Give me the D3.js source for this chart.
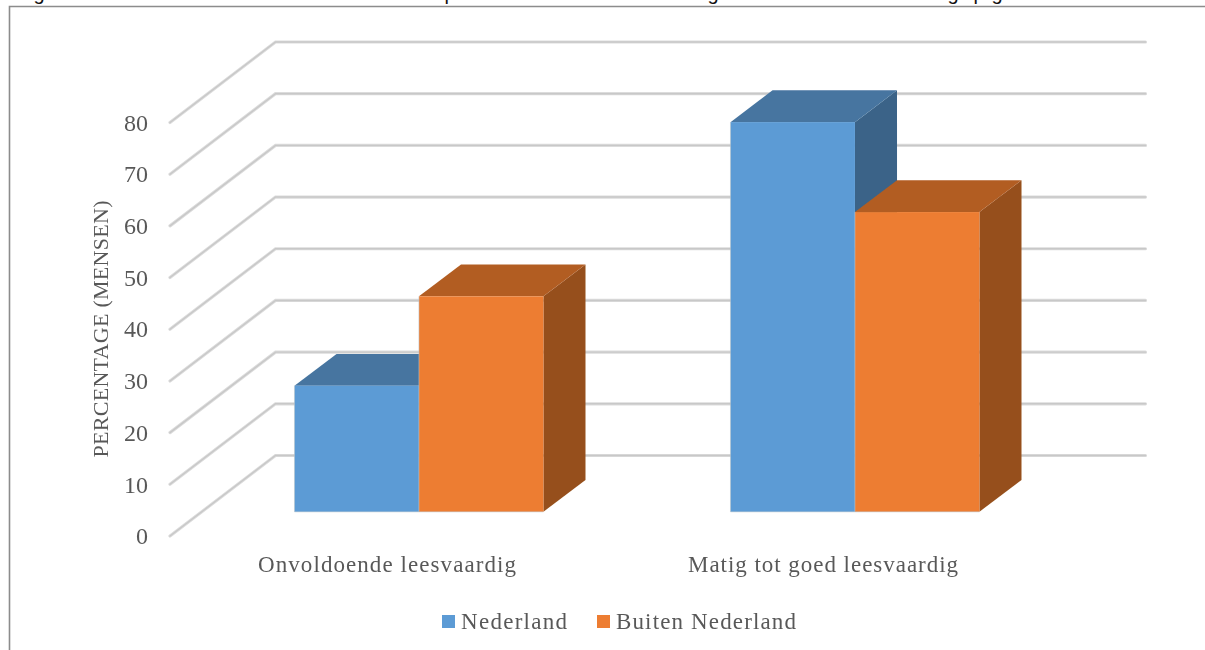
<!DOCTYPE html>
<html><head><meta charset="utf-8">
<script src="https://cdn.jsdelivr.net/npm/d3@7/dist/d3.min.js"></script>
<style>html,body{margin:0;padding:0;background:#fff}svg{display:block}</style>
</head><body>
<svg id="c" width="1205" height="650"></svg>
<script>
const categories = ["Onvoldoende leesvaardig", "Matig tot goed leesvaardig"];
const seriesNames = ["Nederland", "Buiten Nederland"];
const nederland = [24.4, 75.4];
const buitenNederland = [41.7, 58];
const yTicks = [0, 10, 20, 30, 40, 50, 60, 70, 80];
const yTitle = "PERCENTAGE (MENSEN)";
const clippedTitleDescenders = ["g", "p", "g", "g", "p", "g"];

const frontCol = ["#5b9bd5", "#ed7d31"], topCol = ["#4675a0", "#b25d22"], sideCol = ["#3a6488", "#96501c"];
const serif = "'Liberation Serif', serif", textCol = "#595959";

const svg = d3.select("#c");
const defs = svg.append("defs");
defs.append("filter").attr("id", "soft").append("feGaussianBlur").attr("stdDeviation", 0.45);

// projection geometry
const plotL = 169, plotW = 872, y0 = 536, y80 = 122.5;
const wallDx = 106.5, wallDy = -80.5;          // full floor depth
const barStart = 0.3, barDepth = 0.395;         // fraction of depth
const x = d3.scaleBand().domain(categories).range([plotL, plotL + plotW]).paddingInner(0.429).paddingOuter(0.2145);
const xs = d3.scaleBand().domain(d3.range(2)).range([0, x.bandwidth()]);
const y = d3.scaleLinear().domain([0, 80]).range([y0, y80]);

// frame
svg.append("path").attr("d", "M9.5,650V6.5H1205").attr("fill", "none").attr("stroke", "#8c8c8c").attr("stroke-width", 1.6);

// clipped caption line above the frame
const capX = [39, 450, 713, 953, 979, 997];
svg.append("g").selectAll("text").data(clippedTitleDescenders).join("text")
  .attr("x", (d, i) => capX[i]).attr("y", -0.5).attr("text-anchor", "middle")
  .attr("font-family", "'Liberation Sans', Arial, sans-serif").attr("font-size", 20).attr("fill", "#111").text(d => d);

const g = svg.append("g").attr("filter", "url(#soft)");

// gridlines: side wall + back wall
const gridPath = v => {
  const p = d3.path(); const yy = y(v);
  p.moveTo(plotL + 1, yy); p.lineTo(plotL + wallDx, yy + wallDy); p.lineTo(plotL + plotW + wallDx - 2, yy + wallDy);
  return p.toString();
};
[["#dcdcdc", 3.2], ["#c8c8c8", 1.4]].forEach(([c, w]) => {
  g.append("g").selectAll("path").data(yTicks).join("path")
    .attr("d", gridPath).attr("fill", "none").attr("stroke", c).attr("stroke-width", w).attr("stroke-linecap", "round");
});

// bars
const barDx = wallDx * barStart, barDy = wallDy * barStart;
const dDx = wallDx * barDepth, dDy = wallDy * barDepth;
const poly = pts => d3.line()(pts) + "Z";
[nederland, buitenNederland].forEach((vals, s) => {
  categories.forEach((c, i) => {
    const xL = x(c) + xs(s) + barDx, xR = xL + xs.bandwidth();
    const yB = y(0) + barDy, yT = y(vals[i]) + barDy;
    const bar = g.append("g");
    bar.append("path").attr("d", poly([[xR, yT], [xR + dDx, yT + dDy], [xR + dDx, yB + dDy], [xR, yB]])).attr("fill", sideCol[s]);
    bar.append("path").attr("d", poly([[xL, yT], [xL + dDx, yT + dDy], [xR + dDx, yT + dDy], [xR, yT]])).attr("fill", topCol[s]);
    bar.append("rect").attr("x", xL).attr("y", yT).attr("width", xR - xL).attr("height", yB - yT).attr("fill", frontCol[s]);
    bar.append("path").attr("d", `M${xL},${yT}V${yB}H${xR}`).attr("fill", "none").attr("stroke", "#b9c4cc").attr("stroke-opacity", 0.55);
  });
});

// axes
const yAxis = g.append("g").attr("transform", `translate(${plotL},0)`).call(d3.axisLeft(y).tickValues(yTicks).tickSize(0).tickPadding(21).tickFormat(d3.format("d")));
const xAxis = g.append("g").attr("transform", "translate(0,556)").call(d3.axisBottom(x).tickSize(0).tickPadding(0));
yAxis.select(".domain").remove(); xAxis.select(".domain").remove();
yAxis.selectAll("text").attr("font-family", serif).attr("font-size", 24).attr("fill", textCol);
xAxis.selectAll("text").attr("font-family", serif).attr("font-size", 23).attr("fill", textCol)
  .attr("textLength", (d, i) => [258, 270][i]).attr("dy", "0.71em");

g.append("text").attr("transform", "translate(108,329) rotate(-90)").attr("text-anchor", "middle")
  .attr("font-family", serif).attr("font-size", 22).attr("fill", textCol).attr("textLength", 257).text(yTitle);

// legend
const legX = [442, 597], legW = [106, 180];
const leg = g.append("g").selectAll("g").data(seriesNames).join("g").attr("transform", (d, i) => `translate(${legX[i]},615)`);
leg.append("rect").attr("width", 13).attr("height", 13).attr("fill", (d, i) => frontCol[i]);
leg.append("text").attr("x", 19).attr("y", 13.5).attr("font-family", serif).attr("font-size", 23).attr("fill", textCol)
  .attr("textLength", (d, i) => legW[i]).text(d => d);
</script>
</body></html>
